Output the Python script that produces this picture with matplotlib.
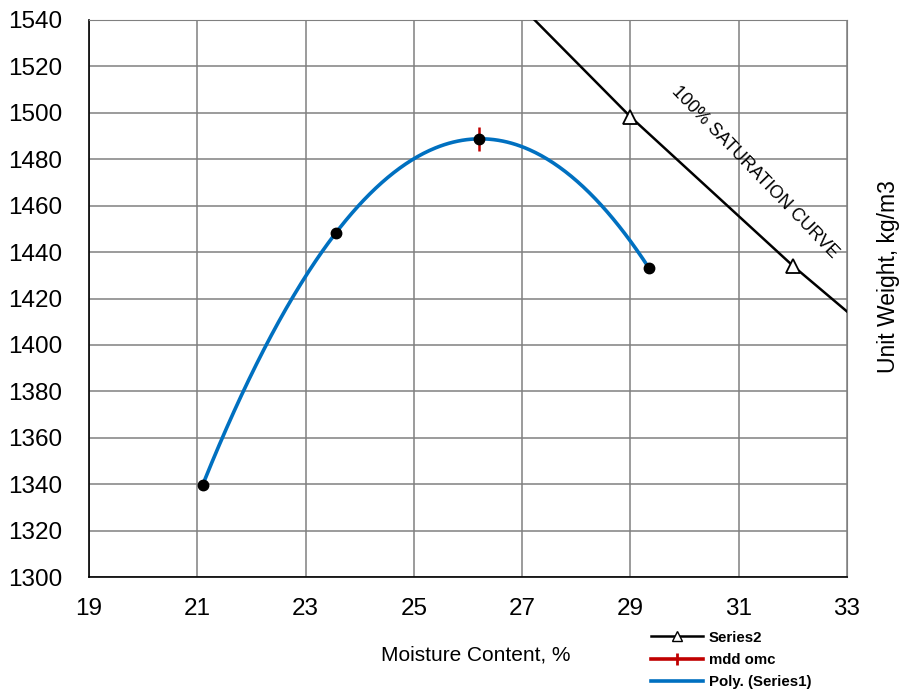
import numpy as np
import matplotlib
matplotlib.use("Agg")
import matplotlib.pyplot as plt
from matplotlib.lines import Line2D

plt.rcParams['font.family'] = ['Liberation Sans', 'DejaVu Sans']

# Compaction test results
moisture = [21.1, 23.56, 26.2, 29.34]
unit_weight = [1339.7, 1448.3, 1488.8, 1433.2]

# Zero-air-voids (100% saturation) line
sat_moisture = [26.0, 29.0, 32.0, 35.0]
sat_weight = [1569.0, 1498.3, 1434.1, 1375.0]

# Maximum dry density / optimum moisture content
omc = [26.2]
mdd = [1488.8]

x_ticks = [19, 21, 23, 25, 27, 29, 31, 33]
y_ticks = list(range(1300, 1541, 20))

fig = plt.figure(figsize=(8.99, 6.90), dpi=100)
ax = fig.add_axes([89 / 899, 1 - 577 / 690, (847 - 89) / 899, (577 - 20) / 690])

ax.set_xlim(19, 33)
ax.set_ylim(1300, 1540)
ax.set_xticks(x_ticks)
ax.set_yticks(y_ticks)
ax.tick_params(length=0, labelsize=17.5)
ax.tick_params(axis='y', pad=19)
ax.tick_params(axis='x', pad=15)
ax.grid(True, color='#808080', linewidth=1.1)
ax.set_axisbelow(True)
for side in ('top', 'right'):
    ax.spines[side].set_color('#808080')
for side in ('left', 'bottom'):
    ax.spines[side].set_color('black')
    ax.spines[side].set_linewidth(1.2)

# Saturation line
ax.plot(sat_moisture, sat_weight, color='black', linewidth=1.8, marker='^',
        markersize=10, markerfacecolor='white', markeredgecolor='black',
        markeredgewidth=1.3, zorder=3)

# Polynomial trend through the test points
coef = np.polyfit(moisture, unit_weight, 3)
xs = np.linspace(min(moisture), max(moisture), 300)
ax.plot(xs, np.polyval(coef, xs), color='#0070C0', linewidth=2.6, zorder=4)

# MDD/OMC marker
ax.plot(omc, mdd, color='#C00000', marker='|', markersize=17,
        markeredgewidth=1.8, linestyle='none', zorder=4)

# Test points
ax.plot(moisture, unit_weight, 'o', color='black', markersize=7.5, zorder=5)

ax.text(31.3, 1474.5, '100% SATURATION CURVE', rotation=-46,
        rotation_mode='anchor', ha='center', va='center', fontsize=13,
        transform_rotates_text=False)

fig.text(476 / 899, 1 - 655 / 690, 'Moisture Content, %', ha='center',
         va='center', fontsize=15)
fig.text(888 / 899, 1 - 277 / 690, 'Unit Weight, kg/m3', ha='center',
         va='center', rotation=90, fontsize=16.5)

handles = [
    Line2D([], [], color='black', linewidth=1.8, marker='^', markersize=7,
           markerfacecolor='white', markeredgecolor='black'),
    Line2D([], [], color='#C00000', linewidth=2.6, marker='|', markersize=8,
           markeredgewidth=2),
    Line2D([], [], color='#0070C0', linewidth=2.6),
]
labels = ['Series2', 'mdd omc', 'Poly. (Series1)']
fig.legend(handles, labels, loc='upper left',
           bbox_to_anchor=(640 / 899, 1 - 620 / 690), frameon=False,
           prop={'weight': 'bold', 'size': 10.8}, handlelength=3.5,
           handletextpad=0.4, labelspacing=0.55, borderpad=0.2)

fig.savefig('out.png', dpi=100)
